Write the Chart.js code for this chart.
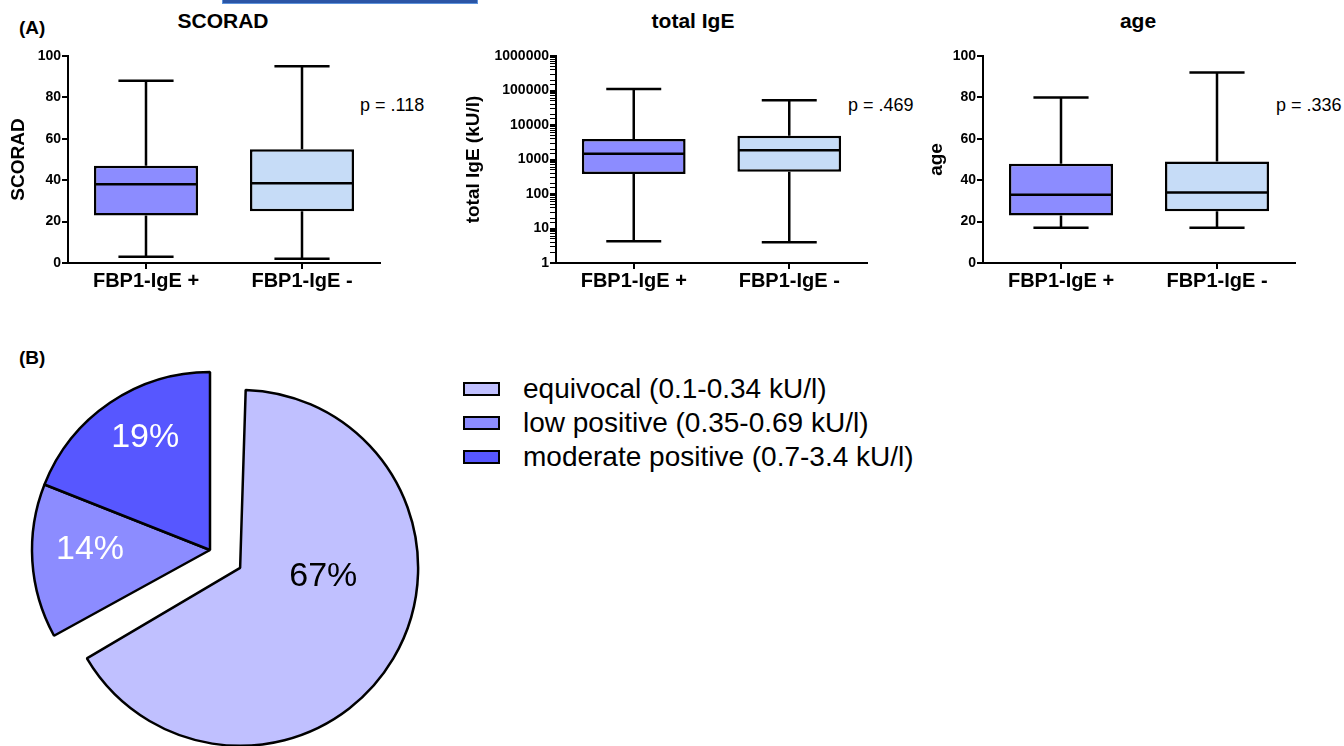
<!DOCTYPE html>
<html>
<head>
<meta charset="utf-8">
<script src="https://cdn.jsdelivr.net/npm/chart.js@4/dist/chart.umd.min.js"></script>
<style>
  body { margin: 0; width: 1344px; height: 746px; overflow: hidden; background: #fff;
         position: relative; font-family: "Liberation Sans", Arial, sans-serif; color: #000; }
  canvas, .txt { position: absolute; }
  .panel { font-weight: bold; font-size: 19px; }
  .ttl { font-weight: bold; font-size: 21px; transform: translateX(-50%); white-space: nowrap; }
  .pval { font-size: 18px; white-space: nowrap; }
  .bar { position: absolute; left: 222px; top: -1px; width: 254px; height: 3px;
         background: #2b55a5; border: 1px solid #5d93dc; }
  #legend { position: absolute; left: 463px; top: 372px; font-size: 28px; }
  .row { display: flex; align-items: center; height: 34px; white-space: nowrap; }
  .sw { width: 33px; height: 10px; border: 2px solid #000; margin-right: 23px; }
</style>
</head>
<body>
<div class="bar"></div>
<div class="txt panel" style="left:19px;top:17px">(A)</div>
<div class="txt panel" style="left:19px;top:347px">(B)</div>
<div class="txt ttl" style="left:223px;top:9px">SCORAD</div>
<div class="txt ttl" style="left:693px;top:9px">total IgE</div>
<div class="txt ttl" style="left:1138px;top:9px">age</div>
<div class="txt pval" id="p0" style="left:360px;top:95px"></div>
<div class="txt pval" id="p1" style="left:848px;top:95px"></div>
<div class="txt pval" id="p2" style="left:1276px;top:95px"></div>

<canvas id="scorad" width="440" height="300" style="left:0;top:0"></canvas>
<canvas id="ige" width="455" height="300" style="left:445px;top:0"></canvas>
<canvas id="age" width="444" height="300" style="left:900px;top:0"></canvas>
<canvas id="pie" width="460" height="410" style="left:0;top:340px"></canvas>
<div id="legend"></div>

<script>
// box plot values: [min, Q1, median, Q3, max]
const groups = ['FBP1-IgE +', 'FBP1-IgE -'];
const scoradPos = [3, 23, 38, 47, 88];
const scoradNeg = [2, 25, 38.5, 55, 95];
const igePos = [4.3, 380, 1480, 3900, 110000];
const igeNeg = [4, 440, 1860, 4900, 52000];
const agePos = [17, 23, 33, 48, 80];
const ageNeg = [17, 25, 34, 49, 92];
const pValues = ['p = .118', 'p = .469', 'p = .336'];

// pie
const classes = ['equivocal (0.1-0.34 kU/l)', 'low positive (0.35-0.69 kU/l)', 'moderate positive (0.7-3.4 kU/l)'];
const shares = [67, 14, 19];

const boxColors = ['#8c8cff', '#c6dcf7'];
const pieColors = ['#c0c0ff', '#8c8cff', '#5757ff'];

Chart.defaults.font.family = '"Liberation Sans", Arial, sans-serif';
Chart.defaults.font.weight = 'bold';
Chart.defaults.color = '#000';

pValues.forEach((p, i) => { document.getElementById('p' + i).textContent = p; });

// whiskers + median line on top of the floating Q1-Q3 bars
const whiskers = {
  id: 'whiskers',
  afterDatasetsDraw(chart) {
    const ctx = chart.ctx;
    const y = chart.scales.y;
    const ds = chart.data.datasets[0];
    const meta = chart.getDatasetMeta(0);
    ctx.save();
    ctx.strokeStyle = '#000';
    ctx.lineWidth = 2.5;
    ds.stats.forEach((s, i) => {
      const bar = meta.data[i];
      const cx = bar.x, half = bar.width / 2, cap = bar.width * 0.265;
      const [lo, q1, med, q3, hi] = s.map(v => y.getPixelForValue(v));
      ctx.beginPath();
      ctx.moveTo(cx, q3); ctx.lineTo(cx, hi);
      ctx.moveTo(cx - cap, hi); ctx.lineTo(cx + cap, hi);
      ctx.moveTo(cx, q1); ctx.lineTo(cx, lo);
      ctx.moveTo(cx - cap, lo); ctx.lineTo(cx + cap, lo);
      ctx.moveTo(cx - half + 1, med); ctx.lineTo(cx + half - 1, med);
      ctx.stroke();
    });
    ctx.restore();
  }
};

function boxChart(id, yTitle, pos, neg, yScale, yWidth, titlePad, padRight) {
  new Chart(document.getElementById(id), {
    type: 'bar',
    data: {
      labels: groups,
      datasets: [{
        data: [[pos[1], pos[3]], [neg[1], neg[3]]],
        stats: [pos, neg],
        backgroundColor: boxColors,
        borderColor: '#000',
        borderWidth: 2.5,
        borderSkipped: false,
        barPercentage: 0.667,
        categoryPercentage: 1
      }]
    },
    options: {
      responsive: false,
      animation: false,
      layout: { padding: { top: 56, right: padRight, left: 0, bottom: 0 } },
      plugins: { legend: { display: false }, tooltip: { enabled: false } },
      scales: {
        x: {
          grid: { offset: false, drawOnChartArea: false, tickLength: 6, color: '#000', lineWidth: 2 },
          border: { color: '#000', width: 2 },
          ticks: { font: { size: 20, weight: 'bold' }, padding: 0 },
          afterFit: s => { s.height = 37; }
        },
        y: Object.assign({
          title: { display: true, text: yTitle, font: { size: 19, weight: 'bold' }, padding: { top: titlePad, bottom: 0 } },
          grid: { drawOnChartArea: false, tickLength: 6, color: '#000', lineWidth: 2 },
          border: { color: '#000', width: 2 },
          afterFit: s => { s.width = yWidth; }
        }, yScale)
      }
    },
    plugins: [whiskers]
  });
}

const linearY = {
  min: 0, max: 100,
  ticks: { stepSize: 20, font: { size: 14, weight: 'bold' }, padding: 1 }
};

boxChart('scorad', 'SCORAD', scoradPos, scoradNeg, linearY, 68, 7, 60);

boxChart('ige', 'total IgE (kU/l)', igePos, igeNeg, {
  type: 'logarithmic', min: 1, max: 1000000,
  grid: { drawOnChartArea: false, tickLength: 6, color: '#000',
          lineWidth: c => (c.tick && c.tick.major) ? 2 : 1 },
  ticks: {
    autoSkip: false, font: { size: 14, weight: 'bold' }, padding: 1,
    callback: v => {
      const e = Math.log10(v);
      return Math.abs(e - Math.round(e)) < 1e-9 ? String(v) : '';
    }
  }
}, 111, 17, 33);

boxChart('age', 'age', agePos, ageNeg, linearY, 83, 25, 49);

// Chart.js enlarges slices wider than 180deg by their offset; keep one radius for all
const evenRadius = {
  id: 'evenRadius',
  afterDatasetUpdate(chart, args) {
    args.meta.data.forEach(arc => {
      const off = (arc.options.offset || 0) / 4;
      const fix = 1 - Math.sin(Math.min(Math.PI, arc.circumference || 0));
      arc.outerRadius -= off * fix;
    });
  }
};

// percentage labels inside the slices
const sliceLabels = {
  id: 'sliceLabels',
  afterDatasetsDraw(chart, args, opts) {
    const ctx = chart.ctx;
    const meta = chart.getDatasetMeta(0);
    const data = chart.data.datasets[0].data;
    const R = meta.controller.outerRadius;
    ctx.save();
    ctx.font = '34px "Liberation Sans", Arial, sans-serif';
    ctx.textAlign = 'center';
    ctx.textBaseline = 'middle';
    meta.data.forEach((arc, i) => {
      const mid = (arc.startAngle + arc.endAngle) / 2;
      const off = (arc.options.offset || 0) / 4; // arc element moves by offset/4
      const cx = arc.x + Math.cos(mid) * off, cy = arc.y + Math.sin(mid) * off;
      const a = mid + opts.turn[i], r = R * opts.dist[i];
      ctx.fillStyle = opts.colors[i];
      ctx.fillText(data[i] + '%', cx + Math.cos(a) * r, cy + Math.sin(a) * r);
    });
    ctx.restore();
  }
};

new Chart(document.getElementById('pie'), {
  type: 'pie',
  data: {
    labels: classes,
    datasets: [{
      data: shares,
      backgroundColor: pieColors,
      borderColor: '#000',
      borderWidth: 2.5,
      offset: [140, 0, 0],
      hoverOffset: 0,
      clip: false
    }]
  },
  options: {
    responsive: false,
    animation: false,
    radius: 178,
    layout: { padding: { left: 13, top: 13, right: 53, bottom: 3 } },
    plugins: {
      legend: { display: false },
      tooltip: { enabled: false },
      sliceLabels: { turn: [-0.426, 0.063, 0.072], dist: [0.47, 0.674, 0.727], colors: ['#000', '#fff', '#fff'] }
    }
  },
  plugins: [evenRadius, sliceLabels]
});

// legend
const legend = document.getElementById('legend');
classes.forEach((c, i) => {
  const row = document.createElement('div');
  row.className = 'row';
  const sw = document.createElement('span');
  sw.className = 'sw';
  sw.style.background = pieColors[i];
  const t = document.createElement('span');
  t.textContent = c;
  row.appendChild(sw);
  row.appendChild(t);
  legend.appendChild(row);
});
</script>
</body>
</html>
